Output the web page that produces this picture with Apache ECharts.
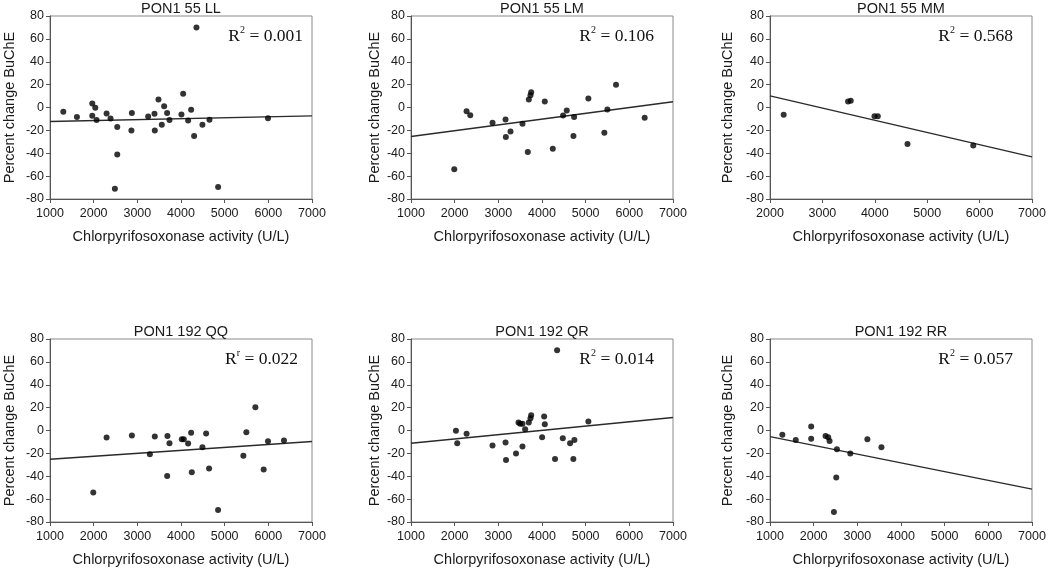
<!DOCTYPE html>
<html><head><meta charset="utf-8">
<script src="https://cdn.jsdelivr.net/npm/echarts@6/dist/echarts.min.js"></script>
<style>html,body{margin:0;padding:0;background:#fff}#c{width:1050px;height:573px}</style>
</head><body><div id="c"></div>
<script>
// ---- data ----
const titles = ['PON1 55 LL','PON1 55 LM','PON1 55 MM','PON1 192 QQ','PON1 192 QR','PON1 192 RR'];
const rLabels = [['2',' = 0.001'],['2',' = 0.106'],['2',' = 0.568'],['r',' = 0.022'],['2',' = 0.014'],['2',' = 0.057']];
const xMins = [1000,1000,2000,1000,1000,1000];
const xTicks = [1000,2000,3000,4000,5000,6000,7000];
const yTicks = [-80,-60,-40,-20,0,20,40,60,80];
const xName = 'Chlorpyrifosoxonase activity (U/L)';
const yName = 'Percent change BuChE';

const x1 = [1305,1617,1968,1968,2037,2067,2296,2387,2486,2540,2540,2875,2864,3248,3393,3400,3484,3560,3614,3682,3736,4010,4049,4163,4232,4300,4354,4491,4652,4850,5992];
const y1 = [-3.8,-8.2,3.5,-7.3,-0.3,-11,-5.3,-9.6,-71,-17,-41,-4.7,-20,-7.9,-5.5,-20,7,-15,1.2,-4.7,-11,-6.1,12,-11.4,-2,-25,70,-15,-10.8,-69.5,-9.3];
const x2 = [1991,2273,2357,2867,3165,3172,3279,3553,3675,3698,3736,3752,4064,4247,4483,4567,4735,4720,5062,5428,5497,5695,6351];
const y2 = [-54,-3.2,-6.7,-13.4,-10.5,-25.7,-21,-14.3,-38.8,7,10.8,13.4,5.3,-36,-7,-2.6,-8.2,-25,7.9,-22,-1.8,20,-9];
const x3 = [2261,3490,3541,3994,4057,4624,5879];
const y3 = [-6.4,5.3,5.8,-7.6,-7.6,-32,-33.3];
const x4 = [1991,2296,2875,3287,3400,3683,3690,3736,4018,4064,4163,4232,4247,4491,4575,4643,4849,5428,5497,5703,5893,5992,6358];
const y4 = [-54.2,-6.1,-4.4,-20.7,-5.3,-39.7,-4.7,-11.1,-7.6,-7.6,-11.4,-2,-36.6,-14.6,-2.6,-33.2,-69.5,-22,-1.5,20.3,-34,-9.3,-8.8];
const x5 = [2029,2059,2273,2867,3165,3176,3405,3462,3500,3553,3553,3614,3698,3736,3752,4003,4049,4064,4298,4346,4476,4643,4718,4742,5062];
const y5 = [-0.3,-11.1,-2.9,-13.1,-10.5,-25.9,-20,7,6,-14,5.8,1.2,7,10.8,13.4,-5.8,12.3,5.5,-25,70.1,-6.7,-11.1,-25,-8.2,7.9];
const x6 = [1283,1590,1943,1943,2272,2333,2364,2464,2517,2533,2839,3230,3552];
const y6 = [-3.8,-8.2,3.5,-7.3,-4.7,-5.9,-9.1,-71.3,-41,-16.4,-20,-7.6,-14.7];

const trendX1 = [1000,7000], trendY1 = [-12.3,-7.3];
const trendX2 = [1000,7000], trendY2 = [-25.4,5];
const trendX3 = [2000,7000], trendY3 = [10.2,-43.2];
const trendX4 = [1000,7000], trendY4 = [-25.1,-9.6];
const trendX5 = [1000,7000], trendY5 = [-11.1,11.4];
const trendX6 = [1000,7000], trendY6 = [-5.3,-51.3];

const xs = [x1,x2,x3,x4,x5,x6], ys = [y1,y2,y3,y4,y5,y6];
const txs = [trendX1,trendX2,trendX3,trendX4,trendX5,trendX6];
const tys = [trendY1,trendY2,trendY3,trendY4,trendY5,trendY6];

// ---- layout ----
const lefts = [50,411,770], tops = [16,339], W = 262, H = 183;
const nameGaps = [33,29,35];
const rRight = [303,654,1013,298,654,1013];
const sans = '"Liberation Sans", Arial, sans-serif';
const serif = '"Liberation Serif", "Times New Roman", serif';

const grid=[], xAxis=[], yAxis=[], series=[], title=[], graphic=[];
for (let i=0;i<6;i++){
  const col=i%3, row=Math.floor(i/3);
  const L=lefts[col], T=tops[row];
  grid.push({left:L, top:T, width:W, height:H, show:true, borderColor:'#8a8a8a', borderWidth:1, backgroundColor:'transparent'});
  xAxis.push({type:'value', gridIndex:i, min:xMins[i], max:7000, interval:1000,
    name:xName, nameLocation:'middle', nameGap:30,
    nameTextStyle:{fontFamily:sans, fontSize:14.5, color:'#1a1a1a'},
    axisLine:{show:true, onZero:false, lineStyle:{color:'#555', width:1}},
    axisTick:{show:true, length:4, lineStyle:{color:'#555'}},
    axisLabel:{fontFamily:sans, fontSize:12.5, color:'#1a1a1a', margin:8, formatter: v => String(v)},
    splitLine:{show:false}});
  yAxis.push({type:'value', gridIndex:i, min:-80, max:80, interval:20,
    name:yName, nameLocation:'middle', nameGap:nameGaps[col],
    nameTextStyle:{fontFamily:sans, fontSize:14.5, color:'#1a1a1a'},
    axisLine:{show:true, onZero:false, lineStyle:{color:'#555', width:1}},
    axisTick:{show:true, length:4, lineStyle:{color:'#555'}},
    axisLabel:{fontFamily:sans, fontSize:12.5, color:'#1a1a1a', margin:6, formatter: v => String(v)},
    splitLine:{show:false}});
  series.push({type:'scatter', xAxisIndex:i, yAxisIndex:i, symbol:'circle', symbolSize:6,
    itemStyle:{color:'#000'}, data: xs[i].map((v,k)=>[v, ys[i][k]]), z:3});
  series.push({type:'line', xAxisIndex:i, yAxisIndex:i, symbol:'none',
    lineStyle:{color:'#2a2a2a', width:1.4}, data: txs[i].map((v,k)=>[v, tys[i][k]]), z:2, silent:true});
  title.push({text:titles[i], left:L+W/2, top: row===0 ? 1 : 324, textAlign:'center', padding:0,
    textStyle:{fontFamily:sans, fontSize:14.5, fontWeight:'normal', color:'#1a1a1a'}});
  graphic.push({type:'text', right: 1050 - rRight[i], top: T + 7,
    style:{text:'{r|R}{s|'+rLabels[i][0]+'}{r|'+rLabels[i][1]+'}',
      rich:{r:{fontFamily:serif, fontSize:17.5, fill:'#111', lineHeight:22, verticalAlign:'bottom'},
            s:{fontFamily:serif, fontSize:10, fill:'#111', lineHeight:22, verticalAlign:'top', padding:[2,0,0,0]}}}});
}
const chart = echarts.init(document.getElementById('c'), null, {renderer:'canvas'});
chart.setOption({animation:false, backgroundColor:'#fff', grid, xAxis, yAxis, series, title, graphic});
</script></body></html>
